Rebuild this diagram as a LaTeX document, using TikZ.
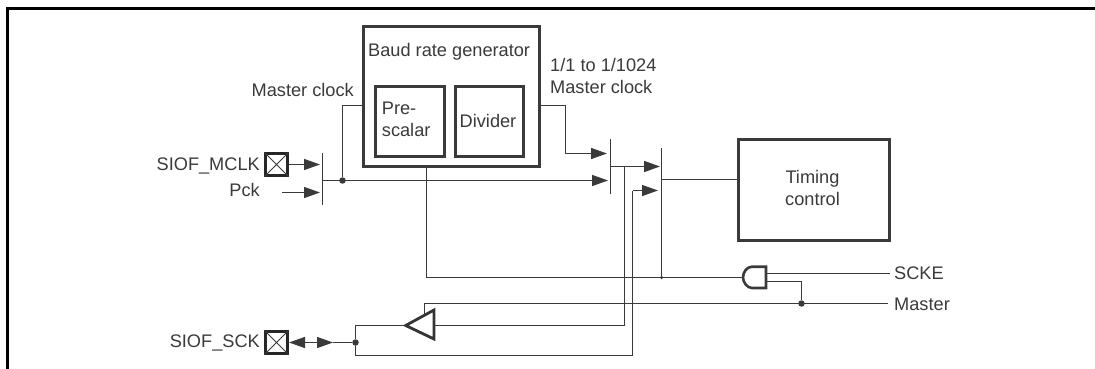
\documentclass[tikz,border=0pt]{standalone}
\usepackage{fontspec}
\setmainfont{Liberation Sans}
\usetikzlibrary{arrows.meta}
\definecolor{ink}{HTML}{3A3A3A}
\tikzset{
  wire/.style={draw=ink,line width=1.4pt},
  arrowwire/.style={wire,-{Triangle[length=16pt,width=11pt]}},
  bar/.style={draw=ink,line width=1.6pt},
  blockbox/.style={draw=ink,line width=3pt,rectangle,inner sep=0pt,anchor=north west},
  padbox/.style={draw=black!85,line width=3pt,rectangle,inner sep=0pt,minimum width=21.5pt,minimum height=21.5pt},
  lbl/.style={text=ink,font=\fontsize{18.2}{21.5}\selectfont,inner sep=0pt},
  dotmark/.style={circle,fill=ink,inner sep=0pt,minimum size=#1},
  frameline/.style={draw=black,line width=2.4pt}
}
\begin{document}
\begin{tikzpicture}[x=1pt,y=-1pt]
\useasboundingbox (0,0) rectangle (1095,369);
% frame
\coordinate (fa) at (6,8.5); \coordinate (fb) at (1095,8.5); \coordinate (fc) at (7.5,369);
\draw[frameline] (fb) -- (fa);
\draw[frameline] (7.5,8.5) -- (fc);
% blocks
\node[blockbox,minimum width=176pt,minimum height=140pt] (brg) at (361.7,25) {};
\node[blockbox,minimum width=69pt,minimum height=70.5pt] (pre) at (374,84.5) {};
\node[blockbox,minimum width=68pt,minimum height=70.5pt] (div) at (454,84.5) {};
\node[blockbox,minimum width=151pt,minimum height=101pt] (timing) at (737.3,137.7) {};
% pads
\node[padbox] (mclk) at (276.5,164.5) {};
\node[padbox] (sck) at (276.5,342.5) {};
\draw[ink,line width=1pt] (mclk.north west) -- (mclk.south east) (mclk.north east) -- (mclk.south west);
\draw[ink,line width=1pt] (sck.north west) -- (sck.south east) (sck.north east) -- (sck.south west);
% labels
\node[lbl,anchor=west] (tbrg) at (368,52) {Baud rate generator};
\node[lbl,anchor=west,align=left] (tpre) at (381.7,119.5) {Pre-\\scalar};
\node[lbl] (tdiv) at (488,121) {Divider};
\node[lbl,align=center] (ttim) at (812.5,188) {Timing\\control};
\node[lbl,anchor=east] (tmc) at (354,90) {Master clock};
\node[lbl,anchor=west,align=left] (tdc) at (550,76) {1/1 to 1/1024\\Master clock};
\node[lbl,anchor=east] (tmclk) at (260,165.5) {SIOF\_MCLK};
\node[lbl,anchor=east] (tpck) at (260,189.5) {Pck};
\node[lbl,anchor=east] (tsck) at (260,342.5) {SIOF\_SCK};
\node[lbl,anchor=west] (tscke) at (894,273) {SCKE};
\node[lbl,anchor=west] (tmaster) at (894,304) {Master};
% selector bars
\coordinate (m1t) at (322.5,153); \coordinate (m1b) at (322.5,205);
\coordinate (m2t) at (610.5,139); \coordinate (m2b) at (610.5,194);
\coordinate (m3t) at (661.5,148); \coordinate (m3b) at (661.5,277.5);
\draw[bar] (m1t) -- (m1b);
\draw[bar] (m2t) -- (m2b);
\draw[bar] (m3t) -- (m3b);
% junctions
\node[dotmark=6.5pt] (j1) at (342.5,180.5) {};
\node[dotmark=3.5pt] (j2) at (661.5,277.5) {};
\node[dotmark=6.5pt] (j3) at (801.5,303.5) {};
\node[dotmark=6.5pt] (j4) at (355.5,342.5) {};
% inputs to first selector
\coordinate (pcks) at (282,192.5);
\coordinate (m1i1) at (320,164.5); \coordinate (m1i2) at (320,192.5);
\draw[arrowwire] (mclk.east) -- (m1i1);
\draw[arrowwire] (pcks) -- (m1i2);
% first selector output
\coordinate (m1o) at (322.5,180.5); \coordinate (m2i2) at (608,180.5);
\draw[arrowwire] (m1o) -- (m2i2);
% master clock into generator
\coordinate (brgl) at (361.7,105.5);
\draw[wire] (brgl) -| (j1);
% generator output to second selector
\coordinate (brgr) at (537.7,105.5); \coordinate (m2i1) at (607,153.5);
\draw[arrowwire] (brgr) -| (565.5,153.5) -- (m2i1);
% second selector output
\coordinate (m2o) at (610.5,166.5); \coordinate (m3i1) at (660,166.5);
\draw[arrowwire,line width=1.7pt] (m2o) -- (m3i1);
% third selector output
\coordinate (m3o) at (661.5,179.5);
\draw[wire] (m3o) -- (m3o -| timing.west);
% AND gate
\coordinate (gtr) at (766,266.7); \coordinate (gbr) at (766,288);
\coordinate (gin) at (743,277.5);
\draw[draw=ink,line width=2.6pt,line join=miter] (gtr) -- (752,266.7) .. controls (747,266.7) and (743,272) .. (gin) .. controls (743,282) and (747,288) .. (752,288) -- (gbr) -- cycle;
% generator enable path
\coordinate (brgb) at (426.5,165);
\draw[wire] (brgb) |- (gin);
% AND connections
\coordinate (sckeEnd) at (890,273.5); \coordinate (gi1) at (766,273.5); \coordinate (gi2) at (766,281.5);
\draw[wire] (gi1) -- (sckeEnd);
\draw[wire] (gi2) -| (j3);
% buffer
\coordinate (btip) at (405.7,325.5); \coordinate (btop) at (434,310); \coordinate (bbot) at (434,339);
\draw[draw=ink!90!black,line width=2.8pt,line join=miter] (btip) -- (btop) -- (bbot) -- cycle;
\coordinate (ben) at (424.5,315.5); \coordinate (menEnd) at (888,303.5);
\draw[wire] (ben) |- (menEnd);
% branch from second selector through buffer
\coordinate (bin) at (434,325.5);
\draw[wire] (624.5,166.5) -- (624.5,325.5) -- (bin);
\draw[wire] (btip) -| (j4);
% pad line and arrows
\coordinate (pa) at (289,342.5); \coordinate (pb) at (333,342.5);
\draw[arrowwire] (311,342.5) -- (pa);
\draw[arrowwire] (311,342.5) -- (pb);
\draw[wire] (pb) -- (j4);
% return path to third selector
\coordinate (m3i2) at (658,190.5);
\draw[wire] (j4) -- (355.5,355.5) -- (632.5,355.5) -- (632.5,190.5);
\draw[arrowwire] (632.5,190.5) -- (m3i2);
\end{tikzpicture}
\end{document}
